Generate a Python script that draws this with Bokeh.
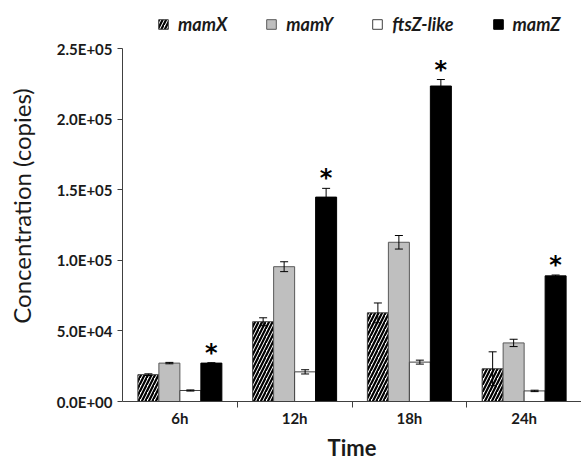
from bokeh.plotting import figure
from bokeh.models import (ColumnDataSource, Range1d, FixedTicker, Whisker, TeeHead,
                          Legend, LegendItem)
from bokeh.core.properties import value
from bokeh.embed import file_html
from bokeh.resources import INLINE

categories = ["6h", "12h", "18h", "24h"]
series = ["mamX", "mamY", "ftsZ-like", "mamZ"]

mamX = [19000, 56500, 62800, 23200]
mamY = [27200, 95500, 112800, 41500]
ftsZ = [7800, 21000, 27900, 7500]
mamZ = [27200, 144800, 223500, 89000]

mamX_err = [600, 2800, 7000, 12000]
mamY_err = [500, 3500, 4800, 2600]
ftsZ_err = [400, 1500, 1400, 500]
mamZ_err = [300, 6200, 4600, 600]

y_ticks = [0, 50000, 100000, 150000, 200000, 250000]
y_tick_labels = ["0.0E+00", "5.0E+04", "1.0E+05", "1.5E+05", "2.0E+05", "2.5E+05"]
y_axis_max = 250000

FONT = "Lato"
bar_w = 0.183
offsets = [-1.5 * bar_w, -0.5 * bar_w, 0.5 * bar_w, 1.5 * bar_w]

# extra headroom above the axis (inside the frame) holds the legend
p = figure(width=581, height=463, output_backend="svg", toolbar_location=None,
           x_range=Range1d(0, 4), y_range=Range1d(0, y_axis_max * 1.108),
           min_border_left=122, min_border_right=0, min_border_top=10,
           min_border_bottom=50)
p.xgrid.visible = False
p.ygrid.visible = False
p.outline_line_color = None
p.background_fill_color = "white"
p.border_fill_color = "white"

centers = [i + 0.5 for i in range(len(categories))]

values = [mamX, mamY, ftsZ, mamZ]
errs = [mamX_err, mamY_err, ftsZ_err, mamZ_err]
styles = [
    dict(fill_color="white", line_color="#404040", hatch_pattern="/", hatch_color="black",
         hatch_weight=2.2, hatch_scale=7),
    dict(fill_color="#bfbfbf", line_color="#595959"),
    dict(fill_color="white", line_color="#404040"),
    dict(fill_color="black", line_color="black"),
]

renderers = []
for k, (vals, er, st) in enumerate(zip(values, errs, styles)):
    xs = [c + offsets[k] for c in centers]
    src = ColumnDataSource(dict(x=xs, top=vals, up=[v + e for v, e in zip(vals, er)],
                                lo=[v - e for v, e in zip(vals, er)]))
    r = p.vbar(x="x", top="top", bottom=0, width=bar_w, source=src, line_width=1, **st)
    renderers.append(r)
    w = Whisker(base="x", upper="up", lower="lo", source=src, line_color="black",
                line_width=1, level="overlay",
                upper_head=TeeHead(size=8, line_color="black", line_width=1),
                lower_head=TeeHead(size=8, line_color="black", line_width=1))
    p.add_layout(w)

# asterisks above mamZ
ast_src = ColumnDataSource(dict(x=[c + offsets[3] for c in centers],
                                y=[v + e for v, e in zip(mamZ, mamZ_err)],
                                t=["*"] * len(categories)))
p.text(x="x", y="y", text="t", source=ast_src, text_font=value("DejaVu Sans"),
       text_font_style="bold", text_font_size="24px", text_align="center",
       text_baseline="middle", y_offset=-10, text_color="black")

# axes
xa = p.xaxis[0]
xa.ticker = FixedTicker(ticks=centers, minor_ticks=[1, 2, 3])
xa.major_label_overrides = {c: lab for c, lab in zip(centers, categories)}
xa.major_tick_line_color = None
xa.major_tick_out = 0
xa.minor_tick_line_color = "#404040"
xa.minor_tick_out = 6
xa.minor_tick_in = 0
xa.major_label_standoff = 1
xa.axis_line_color = "#404040"
xa.major_label_text_font = FONT
xa.major_label_text_font_style = "bold"
xa.major_label_text_font_size = "15px"
xa.major_label_text_color = "#1a1a1a"
xa.axis_label = "Time"
xa.axis_label_text_font = FONT
xa.axis_label_text_font_style = "bold"
xa.axis_label_text_font_size = "22px"
xa.axis_label_text_color = "#1a1a1a"
xa.axis_label_standoff = 4

ya = p.yaxis[0]
ya.bounds = (0, y_axis_max)
ya.ticker = FixedTicker(ticks=y_ticks, minor_ticks=[])
ya.major_label_overrides = {t: lab for t, lab in zip(y_ticks, y_tick_labels)}
ya.major_tick_out = 5
ya.major_tick_in = 0
ya.major_tick_line_color = "#404040"
ya.axis_line_color = "#404040"
ya.major_label_standoff = 5
ya.major_label_text_font = FONT
ya.major_label_text_font_style = "bold"
ya.major_label_text_font_size = "15px"
ya.major_label_text_color = "#1a1a1a"
ya.axis_label = "Concentration (copies)"
ya.axis_label_text_font = FONT
ya.axis_label_text_font_style = "normal"
ya.axis_label_text_font_size = "24px"
ya.axis_label_text_color = "#1a1a1a"
ya.axis_label_standoff = 18

legend = Legend(items=[LegendItem(label=s, renderers=[r]) for s, r in zip(series, renderers)],
                orientation="horizontal", location=(35, 366),
                label_text_font=FONT, label_text_font_style="bold italic",
                label_text_font_size="18px", label_text_color="#1a1a1a",
                glyph_width=12, glyph_height=12, label_standoff=9, spacing=38,
                padding=0, margin=0, border_line_color=None,
                background_fill_alpha=0)
p.add_layout(legend, "center")

open("out.html", "w").write(file_html(p, INLINE))
